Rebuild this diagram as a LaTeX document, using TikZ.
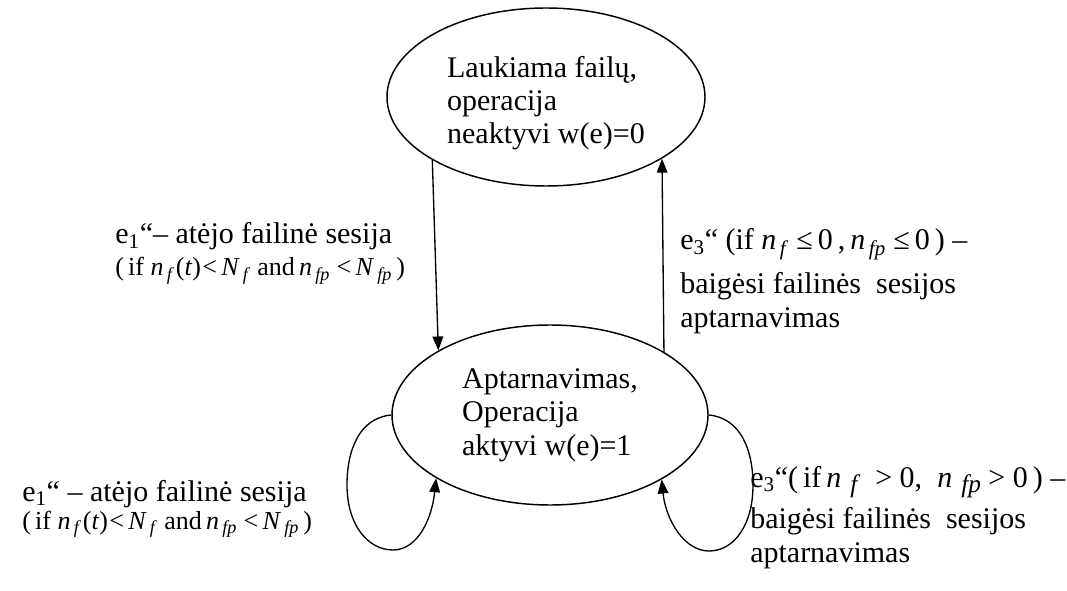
\documentclass[tikz,border=0pt]{standalone}
\usepackage{fontspec}
\setmainfont{Liberation Serif}
\usetikzlibrary{shapes.geometric,arrows.meta}
% italic variable with italic subscript
\newcommand{\mv}[2]{\textit{#1}\kern0.12em\textsubscript{\textit{#2}}}
% italic variable with a large, lowered subscript
\newcommand{\mvl}[2]{\textit{#1}\kern0.3em\raisebox{-0.4ex}{\fontsize{19}{19}\selectfont\textit{#2}}}
\newcommand{\condsize}{\fontsize{19.5}{25}\selectfont}
\newcommand{\condtext}{(\,if \mv{n}{f}\kern1pt(\textit{t})\kern1pt<\,\mv{N}{f} and\,\mv{n}{fp} <\,\mv{N}{fp}\,)}
\begin{document}
\begin{tikzpicture}[x=0.75pt,y=-0.75pt,
  state/.style={ellipse,draw,line width=1.1pt,inner sep=0pt,align=left,
    font=\fontsize{22.5}{25}\selectfont},
  lbl/.style={inner sep=0pt,anchor=base west,align=left,
    font=\fontsize{22.5}{25}\selectfont},
  arr/.style={line width=1pt,-{Triangle[length=10.5pt,width=8pt]}}]
\useasboundingbox (0,0) rectangle (1067,591);

% states
\node[state,minimum width=238.5pt,minimum height=133.5pt] (wait) at (546,97)
  {\rule{0pt}{25pt}Laukiama failų,\\operacija\\neaktyvi w(e)=0};
\node[state,minimum width=237pt,minimum height=135pt] (serve) at (550,415)
  {Aptarnavimas,\\Operacija\\aktyvi w(e)=1};

% transitions between the states
\draw[arr] (wait.209.1) -- (serve.150.3);
\draw[arr] (serve.29.7) -- (wait.332.3);

% self loops
\draw[arr] (serve.west) .. controls +(-32,3) and +(0,-35) .. (347,485)
  .. controls +(0,40) and +(-25,0) .. (393,550)
  .. controls +(25,0) and +(-4,40) .. (serve.209.6);
\draw[arr] (serve.east) .. controls +(32,3) and +(0,-35) .. (753,485)
  .. controls +(0,40) and +(25,0) .. (709,551)
  .. controls +(-25,0) and +(4,40) .. (serve.330.4);

% labels (placed by the baseline of their last line)
\node[lbl] (arrive) at (115,276)
  {e\textsubscript{1}“– atėjo failinė sesija\\[-1pt]
   {\condsize\condtext}};
\node[lbl] (finish) at (680,328)
  {e\textsubscript{3}“ (if \mv{n}{f} ≤\,0\,,\,\mv{n}{fp} ≤\,0\,) –\\[8pt]
   baigėsi failinės\ \ sesijos\\[0.5pt]aptarnavimas};
\node[lbl] (arriveloop) at (22,529)
  {e\textsubscript{1}“ – atėjo failinė sesija\\[-4pt]
   {\condsize\condtext}};
\node[lbl] (finishloop) at (750,562)
  {e\textsubscript{3}“(\,if\,\mvl{n}{f}\ \ > 0,\ \ \mvl{n}{fp} > 0\,) –\\[5.5pt]
   baigėsi failinės\ \ sesijos\\[0.5pt]aptarnavimas};
\end{tikzpicture}
\end{document}
